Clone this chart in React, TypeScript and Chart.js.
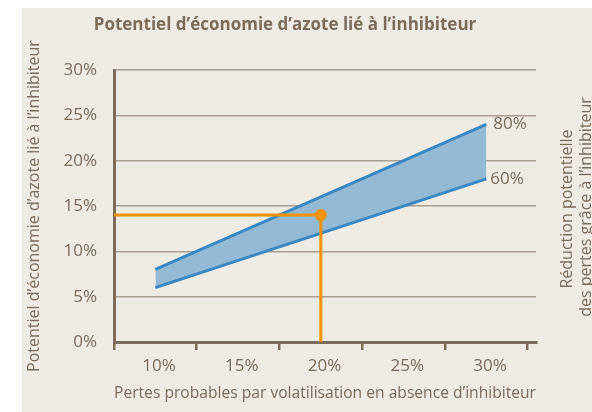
import React, { useEffect, useRef } from 'react';
import { Chart, registerables } from 'chart.js';

Chart.register(...registerables);

// ---- data ----
const xTickValues = [7.5, 12.5, 17.5, 22.5, 27.5, 32.5];
const xTickLabels = ['10%', '15%', '20%', '25%', '30%', ''];
const lossRates = [10, 30];
const reduction80 = [8, 24];
const reduction60 = [6, 18];
const exampleLoss = 20;
const exampleSaving = 14;
const seriesLabels = ['80%', '60%'];
const chartTitle = 'Potentiel d’économie d’azote lié à l’inhibiteur';
const xTitle = 'Pertes probables par volatilisation en absence d’inhibiteur';
const yTitle = 'Potentiel d’économie d’azote lié à l’inhibiteur';
const rightTitle = ['Réduction potentielle', 'des pertes grâce à l’inhibiteur'];

// ---- styles ----
const FONT = '"Open Sans", "Noto Sans", sans-serif';
const TEXT = '#7b6b5b';
const AXIS = '#7b6b5a';
const GRID = '#a89e92';
const BLUE = '#3a87c2';
const BAND = '#94b9d4';
const ORANGE = '#f39200';
const BG = '#edebe4';

const decorPlugin = {
  id: 'decor',
  beforeDraw(chart: any) {
    const ctx = chart.ctx;
    ctx.save();
    ctx.fillStyle = BG;
    ctx.fillRect(22, 8, 570, 404);
    ctx.restore();
  },
  afterDraw(chart: any) {
    const ctx = chart.ctx;
    const xs = chart.scales.x;
    const ys = chart.scales.y;
    ctx.save();
    ctx.fillStyle = TEXT;
    // title
    ctx.font = `bold 17px ${FONT}`;
    ctx.textAlign = 'center';
    ctx.textBaseline = 'middle';
    ctx.fillText(chartTitle, 285, 25);
    // series end labels
    ctx.font = `17px ${FONT}`;
    ctx.textAlign = 'left';
    const xEnd = xs.getPixelForValue(lossRates[lossRates.length - 1]);
    ctx.fillText(seriesLabels[0], xEnd + 7, ys.getPixelForValue(reduction80[reduction80.length - 1]));
    ctx.fillText(seriesLabels[1], xEnd + 4, ys.getPixelForValue(reduction60[reduction60.length - 1]));
    // right title
    ctx.font = `16px ${FONT}`;
    ctx.textAlign = 'center';
    ctx.translate(567, 209);
    ctx.rotate(-Math.PI / 2);
    ctx.fillText(rightTitle[0], 0, 0);
    ctx.fillText(rightTitle[1], 2, 19);
    ctx.restore();
  },
};

export default function App() {
  const ref = useRef<HTMLCanvasElement>(null);
  useEffect(() => {
    const canvas = ref.current!;
    const chart = new Chart(canvas, {
      type: 'line',
      data: {
        datasets: [
          {
            label: 'exemple',
            data: [
              { x: 7.5, y: exampleSaving },
              { x: exampleLoss, y: exampleSaving },
              { x: exampleLoss, y: 0 },
            ],
            borderColor: ORANGE,
            backgroundColor: ORANGE,
            borderWidth: 3,
            pointRadius: [0, 6, 0],
            pointHoverRadius: [0, 6, 0],
            pointBorderWidth: 0,
            pointBackgroundColor: ORANGE,
            fill: false,
            tension: 0,
          },
          {
            label: seriesLabels[0],
            data: lossRates.map((x, i) => ({ x, y: reduction80[i] })),
            borderColor: BLUE,
            borderWidth: 3,
            pointRadius: 0,
            fill: false,
            tension: 0,
          },
          {
            label: seriesLabels[1],
            data: lossRates.map((x, i) => ({ x, y: reduction60[i] })),
            borderColor: BLUE,
            backgroundColor: BAND,
            borderWidth: 3,
            pointRadius: 0,
            fill: 1,
            tension: 0,
          },
        ],
      },
      options: {
        responsive: false,
        animation: false,
        layout: { padding: { top: 70, right: 56, left: 0, bottom: 0 } },
        plugins: {
          legend: { display: false },
          tooltip: { enabled: false },
          title: { display: false },
        },
        scales: {
          x: {
            type: 'linear',
            min: 7.5,
            max: 33,
            afterBuildTicks: (s: any) => {
              s.ticks = xTickValues.map((v) => ({ value: v }));
            },
            afterFit: (s: any) => {
              s.height = 70;
            },
            ticks: {
              callback: (_v: any, i: number) => xTickLabels[i],
              labelOffset: 45,
              padding: 6,
              autoSkip: false,
              maxRotation: 0,
              color: TEXT,
              font: { family: FONT, size: 17 },
            },
            grid: {
              drawOnChartArea: false,
              drawTicks: true,
              tickLength: 8,
              color: AXIS,
              lineWidth: 2.5,
            },
            border: { color: AXIS, width: 3 },
            title: {
              display: true,
              text: xTitle,
              color: TEXT,
              font: { family: FONT, size: 16 },
              padding: { top: 0, bottom: 9 },
            },
          },
          y: {
            type: 'linear',
            min: 0,
            max: 30,
            afterFit: (s: any) => {
              s.width = 114;
            },
            ticks: {
              stepSize: 5,
              callback: (v: any) => v + '%',
              padding: 17,
              color: TEXT,
              font: { family: FONT, size: 17 },
            },
            grid: { color: GRID, lineWidth: 1.5, drawTicks: false },
            border: { color: AXIS, width: 3 },
            title: {
              display: true,
              text: yTitle,
              color: TEXT,
              font: { family: FONT, size: 16 },
              padding: { top: 25, bottom: 0 },
            },
          },
        },
      },
      plugins: [decorPlugin],
    } as any);
    return () => chart.destroy();
  }, []);
  return (
    <div style={{ position: 'fixed', left: 0, top: 0, width: 592, height: 412 }}>
      <canvas ref={ref} width={592} height={412} style={{ display: 'block', width: 592, height: 412 }} />
    </div>
  );
}
